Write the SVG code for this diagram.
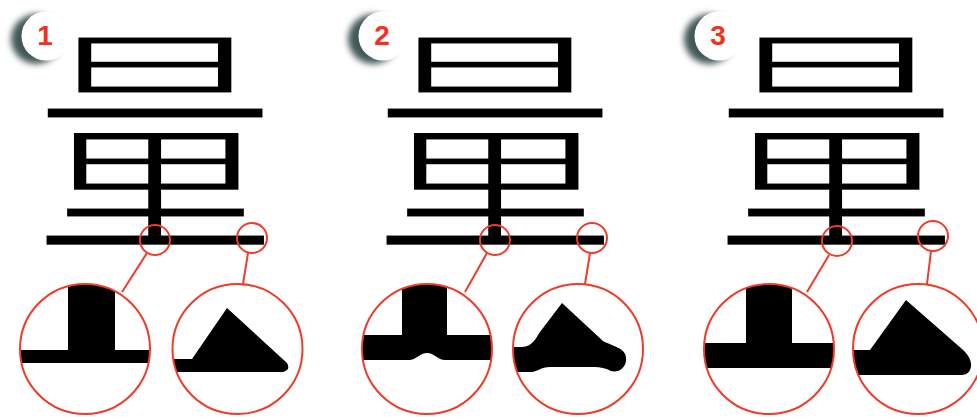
<svg xmlns="http://www.w3.org/2000/svg" width="977" height="417" viewBox="0 0 977 417">
<style>
.glyph{font-family:"Noto Sans CJK SC","Noto Sans CJK JP",sans-serif;font-size:245px;font-weight:400;fill:#000;stroke:#fff;stroke-width:5;stroke-linejoin:miter;text-anchor:middle}
.num{font-family:"Liberation Sans",Arial,sans-serif;font-size:28px;font-weight:bold;fill:#ee3322;text-anchor:middle}
.ring{fill:none;stroke:#ee3b2a;stroke-width:2}
.lead{stroke:#ee3b2a;stroke-width:2;fill:none}
.ink{fill:#000}
.badge{fill:#fff}
.shadow{fill:#435959;filter:url(#blur)}
</style>
<defs>
<filter id="blur" x="-50%" y="-50%" width="200%" height="200%"><feGaussianBlur stdDeviation="3"/></filter>
<clipPath id="c1a"><circle cx="85" cy="349" r="65"/></clipPath>
<clipPath id="c1b"><circle cx="237.5" cy="349" r="65"/></clipPath>
<clipPath id="c2a"><circle cx="427" cy="349" r="65"/></clipPath>
<clipPath id="c2b"><circle cx="578" cy="349" r="65"/></clipPath>
<clipPath id="c3a"><circle cx="769" cy="349" r="65"/></clipPath>
<clipPath id="c3b"><circle cx="918" cy="349" r="65"/></clipPath>
</defs>
<rect width="977" height="417" fill="#fff"/>

<g id="panel1">
<g id="badge1"><circle class="shadow" cx="36" cy="39" r="25"/><circle class="badge" cx="46" cy="36" r="24.5"/><text class="num" x="45" y="45">1</text></g>
<text class="glyph" x="155" y="234">量</text>
<circle class="ring" cx="155" cy="240" r="15"/>
<circle class="ring" cx="252" cy="238" r="15"/>
<g id="zoom1a" clip-path="url(#c1a)"><rect class="ink" x="68" y="270" width="47" height="90"/><rect class="ink" x="10" y="350" width="150" height="13"/></g>
<circle class="ring" cx="85" cy="349" r="65"/>
<g id="zoom1b" clip-path="url(#c1b)"><path class="ink" d="M160,359 L192,359 L227,308 L287,363 Q291,370 283,372 L160,372 Z"/></g>
<circle class="ring" cx="237.5" cy="349" r="65"/>
</g>

<g id="panel2">
<g id="badge2"><circle class="shadow" cx="373" cy="39" r="25"/><circle class="badge" cx="383" cy="36" r="24.5"/><text class="num" x="382" y="45">2</text></g>
<text class="glyph" x="495" y="234">量</text>
<circle class="ring" cx="495" cy="240" r="15"/>
<circle class="ring" cx="592" cy="238" r="15"/>
<g id="zoom2a" clip-path="url(#c2a)"><rect class="ink" x="402" y="270" width="45" height="70"/><path class="ink" d="M350,335 L510,335 L510,360 L445,360 C438,360 434,353 427,353 C420,353 416,360 409,360 L350,360 Z"/></g>
<circle class="ring" cx="427" cy="349" r="65"/>
<g id="zoom2b" clip-path="url(#c2b)"><path class="ink" d="M505,347 L522,347 C532,347 536,338 540,332 L562,303 L603,341 C612,346 626,348 626,358 C627,368 618,373 611,371 C605,368 600,367 595,367 L550,367 C540,367 537,373 528,372 L505,372 Z"/></g>
<circle class="ring" cx="578" cy="349" r="65"/>
</g>

<g id="panel3">
<g id="badge3"><circle class="shadow" cx="709" cy="39" r="25"/><circle class="badge" cx="719" cy="36" r="24.5"/><text class="num" x="718" y="45">3</text></g>
<text class="glyph" x="836" y="234">量</text>
<circle class="ring" cx="837" cy="241" r="15"/>
<circle class="ring" cx="933" cy="236" r="15"/>
<g id="zoom3a" clip-path="url(#c3a)"><rect class="ink" x="746" y="270" width="46" height="80"/><rect class="ink" x="690" y="343" width="160" height="25"/></g>
<circle class="ring" cx="769" cy="349" r="65"/>
<g id="zoom3b" clip-path="url(#c3b)"><path class="ink" d="M850,350 L870,350 L906,300 L962,349 C970,356 973,364 970,370 C968,374 965,375 960,375 L850,375 Z"/></g>
<circle class="ring" cx="918" cy="349" r="65"/>
</g>

<g id="connectors">
<line class="lead" x1="147" y1="253" x2="122" y2="292"/>
<line class="lead" x1="248" y1="253" x2="243" y2="284"/>
<line class="lead" x1="487" y1="253" x2="465" y2="292"/>
<line class="lead" x1="590" y1="253" x2="585" y2="284"/>
<line class="lead" x1="829" y1="255" x2="807" y2="292"/>
<line class="lead" x1="931" y1="251" x2="927" y2="284"/>
</g>
</svg>
